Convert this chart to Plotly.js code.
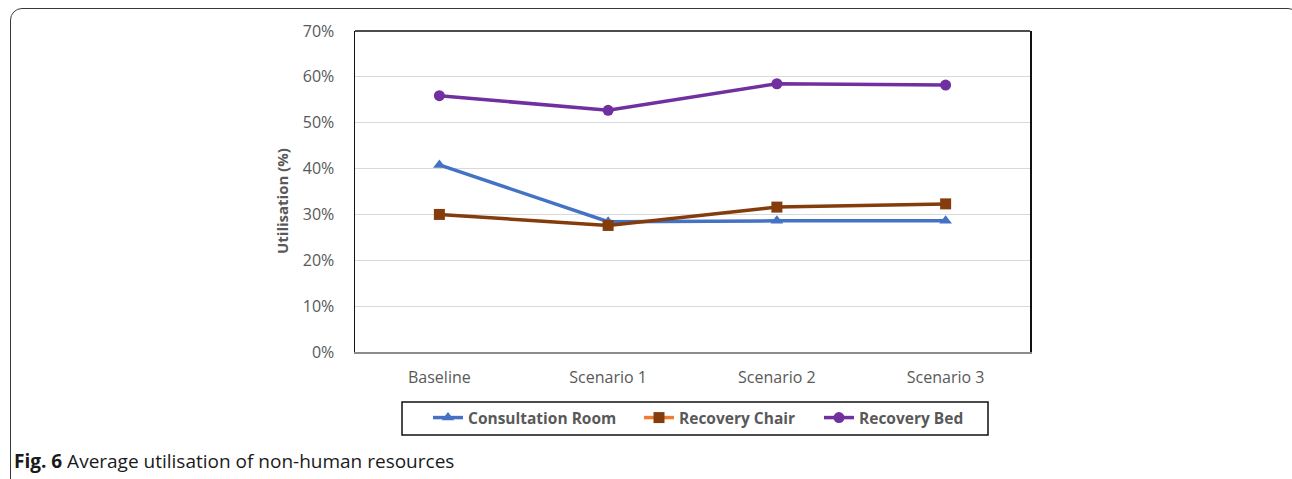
<!DOCTYPE html>
<html>
<head>
<meta charset="utf-8">
<script src="https://cdn.plot.ly/plotly-3.0.1.min.js"></script>
<style>
  html, body { margin: 0; padding: 0; background: #ffffff; }
  #wrap { position: relative; width: 1292px; height: 479px; overflow: hidden; }
  #frame { position: absolute; left: 10px; top: 8px; width: 1290px; height: 490px;
           border: 1.5px solid #3a3a3a; border-radius: 12px; box-sizing: border-box; }
  #chart { position: absolute; left: 0; top: 0; width: 1292px; height: 479px; }
</style>
</head>
<body>
<div id="wrap">
  <div id="frame"></div>
  <div id="chart"></div>
</div>
<script>
// ---- data ----
const categories = ["Baseline", "Scenario 1", "Scenario 2", "Scenario 3"];
const seriesNames = ["Consultation Room", "Recovery Chair", "Recovery Bed"];
const consultationRoom = [40.8, 28.4, 28.6, 28.6];
const recoveryChair = [30.0, 27.6, 31.6, 32.3];
const recoveryBed = [55.9, 52.7, 58.5, 58.2];
const yTickValues = [0, 10, 20, 30, 40, 50, 60, 70];
const yTickLabels = ["0%", "10%", "20%", "30%", "40%", "50%", "60%", "70%"];
const yAxisTitle = "Utilisation (%)";
const captionBold = "Fig. 6";
const captionText = "Average utilisation of non-human resources";

const blue = "#4472C4", brown = "#843C0C", orange = "#ED7D31", purple = "#7030A0";
const FONT = "Open Sans, Noto Sans, sans-serif";

const traces = [
  { x: categories, y: consultationRoom, name: seriesNames[0], type: "scatter", mode: "lines+markers",
    legend: "legend",
    line: { color: blue, width: 3.5 }, marker: { symbol: "triangle-up", size: 11, color: blue } },
  // legend entry for Recovery Chair (orange line with brown marker, as in the original legend)
  { x: [categories[0]], y: [null], name: seriesNames[1], type: "scatter", mode: "lines+markers",
    legend: "legend2",
    line: { color: orange, width: 3.5 }, marker: { symbol: "square", size: 11, color: brown },
    hoverinfo: "skip" },
  { x: categories, y: recoveryChair, name: seriesNames[1], type: "scatter", mode: "lines+markers",
    showlegend: false,
    line: { color: brown, width: 3.5 }, marker: { symbol: "square", size: 11, color: brown } },
  { x: categories, y: recoveryBed, name: seriesNames[2], type: "scatter", mode: "lines+markers",
    legend: "legend3",
    line: { color: purple, width: 3.5 }, marker: { symbol: "circle", size: 11, color: purple } }
];

// pixel helpers for paper-positioned decorations
const L = 355, R = 1030, T = 31, B = 352;
const px2x = p => (p - L) / (R - L);
const px2y = p => (B - p) / (B - T);

const legendFont = { family: FONT, size: 15.5, color: "#595959", weight: "bold" };
function mkLegend(xpx) {
  return {
    orientation: "h",
    x: px2x(xpx), xanchor: "left",
    y: px2y(418), yanchor: "middle",
    bgcolor: "rgba(0,0,0,0)",
    borderwidth: 0,
    font: legendFont,
    itemwidth: 30
  };
}

const layout = {
  width: 1292, height: 479,
  margin: { l: L, r: 1292 - R, t: T, b: 479 - B },
  paper_bgcolor: "rgba(0,0,0,0)",
  plot_bgcolor: "#ffffff",
  font: { family: FONT, color: "#595959", size: 16 },
  showlegend: true,
  xaxis: {
    type: "category",
    range: [-0.5, 3.5],
    showgrid: false,
    zeroline: false,
    showline: true, linecolor: "#8c8c8c", linewidth: 1.5,
    ticks: "", ticklabelstandoff: 10,
    tickfont: { family: FONT, size: 16, color: "#595959" },
    fixedrange: true
  },
  yaxis: {
    range: [0, 70],
    tickvals: yTickValues, ticktext: yTickLabels,
    showgrid: true, gridcolor: "#d9d9d9", gridwidth: 1,
    zeroline: false,
    showline: true, mirror: true, linecolor: "#111111", linewidth: 1.5,
    ticks: "", ticklabelstandoff: 16,
    tickfont: { family: FONT, size: 16, color: "#595959" },
    fixedrange: true
  },
  legend: mkLegend(428),
  legend2: mkLegend(639),
  legend3: mkLegend(819),
  shapes: [
    { type: "line", xref: "paper", yref: "paper", x0: 0, x1: 1, y0: 1, y1: 1,
      line: { color: "#111111", width: 1.5 } },
    { type: "rect", xref: "paper", yref: "paper",
      x0: px2x(402), x1: px2x(988), y0: px2y(435), y1: px2y(402),
      line: { color: "#111111", width: 1.5 }, fillcolor: "rgba(0,0,0,0)" }
  ],
  annotations: [
    { xref: "paper", yref: "paper", x: px2x(282), y: px2y(201), xanchor: "center", yanchor: "middle",
      showarrow: false, textangle: -90,
      text: "<b>" + yAxisTitle + "</b>",
      font: { family: FONT, size: 15, color: "#595959" } },
    { xref: "paper", yref: "paper", x: px2x(12), y: px2y(461), xanchor: "left", yanchor: "middle",
      showarrow: false, align: "left",
      text: "<b>" + captionBold + "</b> " + captionText,
      font: { family: FONT, size: 19, color: "#1a1a1a" } }
  ]
};

Plotly.newPlot("chart", traces, layout, { displayModeBar: false, staticPlot: true });
</script>
</body>
</html>
